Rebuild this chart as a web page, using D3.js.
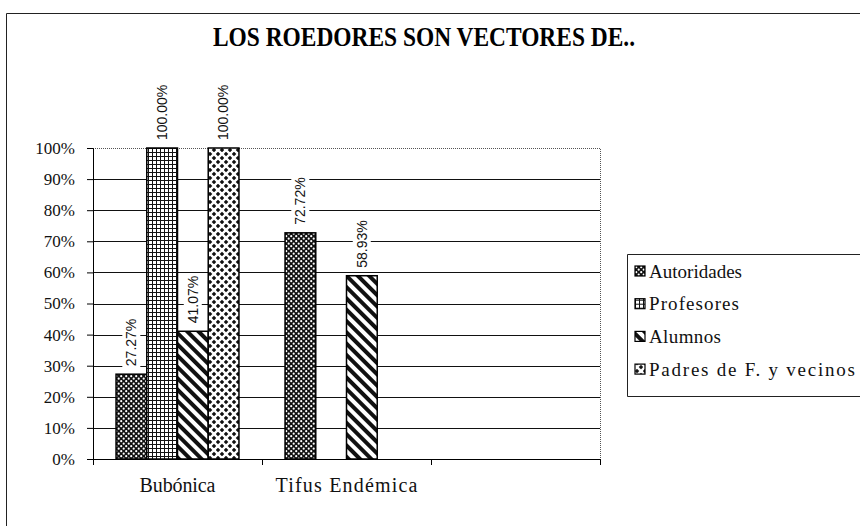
<!DOCTYPE html>
<html>
<head>
<meta charset="utf-8">
<script src="https://cdn.jsdelivr.net/npm/d3@7/dist/d3.min.js"></script>
<style>
  body { margin: 0; background: #fff; }
  svg { display: block; }
</style>
</head>
<body>
<div id="chart"></div>
<script>
const TITLE = 'LOS ROEDORES SON VECTORES DE..';
const CATEGORIES = ['Bubónica', 'Tifus Endémica', ''];
const SERIES = ['Autoridades', 'Profesores', 'Alumnos', 'Padres de F. y vecinos'];
// one array per series, values in % for each category (null = no bar)
const AUTORIDADES = [27.27, 72.72, null];
const PROFESORES = [100.00, null, null];
const ALUMNOS = [41.07, 58.93, null];
const PADRES = [100.00, null, null];
const Y_TICKS = [0, 10, 20, 30, 40, 50, 60, 70, 80, 90, 100];

const VALUES = [AUTORIDADES, PROFESORES, ALUMNOS, PADRES];
const PATTERN_IDS = ['pat-aut', 'pat-prof', 'pat-alum', 'pat-pad'];
const SERIF = 'Liberation Serif';
const SANS = 'Liberation Sans';
// the scanned type is spaced out, so stretch a few texts to their printed widths
const CAT_TEXT_W = [76, 142, 0];
const LEGEND_TEXT_W = [93, 90, 72, 206];

const W = 860, H = 526;
const plot = { left: 93, right: 600, top: 148, bottom: 459 };

const svg = d3.select('#chart').append('svg').attr('width', W).attr('height', H);
const defs = svg.append('defs');

// hatch patterns, black & white like the print
const pAut = defs.append('pattern').attr('id', 'pat-aut').attr('patternUnits', 'userSpaceOnUse')
  .attr('width', 5).attr('height', 5);
pAut.append('rect').attr('width', 5).attr('height', 5).attr('fill', '#111');
pAut.append('circle').attr('cx', 1.2).attr('cy', 1.2).attr('r', 1.1).attr('fill', '#fff');
pAut.append('circle').attr('cx', 3.7).attr('cy', 3.7).attr('r', 1.1).attr('fill', '#fff');

const pProf = defs.append('pattern').attr('id', 'pat-prof').attr('patternUnits', 'userSpaceOnUse')
  .attr('width', 4).attr('height', 4);
pProf.append('rect').attr('width', 4).attr('height', 4).attr('fill', '#fff');
pProf.append('path').attr('d', 'M0 0.5H4M0.5 0V4').attr('stroke', '#111').attr('stroke-width', 1);

const pAlum = defs.append('pattern').attr('id', 'pat-alum').attr('patternUnits', 'userSpaceOnUse')
  .attr('width', 8).attr('height', 8).attr('patternTransform', 'rotate(-45)');
pAlum.append('rect').attr('width', 8).attr('height', 8).attr('fill', '#fff');
pAlum.append('rect').attr('width', 4).attr('height', 8).attr('fill', '#111');

// black diamonds on white, offset rows
const pPad = defs.append('pattern').attr('id', 'pat-pad').attr('patternUnits', 'userSpaceOnUse')
  .attr('width', 8).attr('height', 8);
pPad.append('rect').attr('width', 8).attr('height', 8).attr('fill', '#fff');
pPad.append('path').attr('d', 'M2 -0.3L4.3 2L2 4.3L-0.3 2ZM6 3.7L8.3 6L6 8.3L3.7 6Z').attr('fill', '#111');

// outer chart frame (runs off the page on the right and bottom)
svg.append('path').attr('d', `M6.5 ${H + 5}V13.5H${W + 5}`)
  .attr('fill', 'none').attr('stroke', '#222').attr('stroke-width', 1);

svg.append('text').attr('x', 424).attr('y', 46).attr('text-anchor', 'middle')
  .style('font-family', SERIF).style('font-weight', 'bold').style('font-size', '27px')
  .attr('textLength', 422).attr('lengthAdjust', 'spacingAndGlyphs')
  .attr('fill', '#000').text(TITLE);

const x0 = d3.scaleBand().domain(CATEGORIES).range([plot.left, plot.right]).padding(0);
const x1 = d3.scaleBand().domain(SERIES).range([0, x0.bandwidth()]).paddingInner(0).paddingOuter(0.75);
const y = d3.scaleLinear().domain([0, 100]).range([plot.bottom, plot.top]);

// gridlines
svg.append('g').selectAll('line').data(Y_TICKS.filter(t => t > 0 && t < 100)).enter().append('line')
  .attr('x1', plot.left).attr('x2', plot.right)
  .attr('y1', d => Math.round(y(d)) + 0.5).attr('y2', d => Math.round(y(d)) + 0.5)
  .attr('stroke', '#111').attr('stroke-width', 1);

// dotted plot-area border top & right
svg.append('path').attr('d', `M${plot.left} ${plot.top + 0.5}H${plot.right + 0.5}V${plot.bottom}`)
  .attr('fill', 'none').attr('stroke', '#555').attr('stroke-width', 1).attr('stroke-dasharray', '1,1');

// bars
const bars = [];
SERIES.forEach((s, si) => {
  CATEGORIES.forEach((c, ci) => {
    const v = VALUES[si][ci];
    if (v != null) bars.push({ series: s, cat: c, value: v, si });
  });
});

svg.append('g').selectAll('rect').data(bars).enter().append('rect')
  .attr('x', d => x0(d.cat) + x1(d.series))
  .attr('y', d => y(d.value))
  .attr('width', x1.bandwidth())
  .attr('height', d => y(0) - y(d.value))
  .attr('fill', d => `url(#${PATTERN_IDS[d.si]})`)
  .attr('stroke', '#000').attr('stroke-width', 1.5);

// axes
const yAxis = svg.append('g').attr('transform', `translate(${plot.left},0)`)
  .call(d3.axisLeft(y).tickValues(Y_TICKS).tickSize(6).tickPadding(12).tickFormat(d => d + '%'));
yAxis.select('.domain').attr('stroke', '#000');
yAxis.selectAll('.tick line').attr('stroke', '#000');
yAxis.selectAll('text').style('font-family', SERIF).style('font-size', '17px').attr('fill', '#111');

const xAxis = svg.append('g').attr('transform', `translate(0,${plot.bottom})`);
xAxis.append('line').attr('x1', plot.left - 6).attr('x2', plot.right).attr('y1', 0.5).attr('y2', 0.5)
  .attr('stroke', '#000');
const tickXs = CATEGORIES.map(c => x0(c)).concat([x0(CATEGORIES[CATEGORIES.length - 1]) + x0.bandwidth()]);
xAxis.selectAll('.xt').data(tickXs).enter().append('line')
  .attr('x1', d => Math.round(d) + 0.5).attr('x2', d => Math.round(d) + 0.5)
  .attr('y1', 0).attr('y2', 6).attr('stroke', '#000');
xAxis.selectAll('.xl').data(CATEGORIES.filter(c => c !== '')).enter().append('text')
  .attr('x', d => x0(d) + x0.bandwidth() / 2).attr('y', 33).attr('text-anchor', 'middle')
  .style('font-family', SERIF).style('font-size', '20px')
  .attr('textLength', (d, i) => CAT_TEXT_W[i]).attr('lengthAdjust', 'spacing')
  .attr('fill', '#111').text(d => d);

// data labels, rotated, with white box behind
const lbl = svg.append('g').selectAll('g').data(bars).enter().append('g')
  .attr('transform', d => `translate(${x0(d.cat) + x1(d.series) + x1.bandwidth() / 2},${y(d.value) - 8}) rotate(-90)`);
lbl.append('text')
  .attr('x', 0).attr('y', 0).attr('dy', '0.35em')
  .style('font-family', SANS).style('font-size', '14px')
  .attr('fill', '#111').text(d => d.value.toFixed(2) + '%');
lbl.each(function () {
  const g = d3.select(this);
  const b = g.select('text').node().getBBox();
  g.insert('rect', 'text').attr('x', b.x - 2).attr('y', b.y - 1)
    .attr('width', b.width + 4).attr('height', b.height + 2).attr('fill', '#fff');
});

// legend
const legend = svg.append('g').attr('transform', 'translate(627,254)');
legend.append('path').attr('d', `M${W} 0.5H0.5V142.5H${W}`).attr('fill', 'none')
  .attr('stroke', '#222').attr('stroke-width', 1);
const li = legend.selectAll('.li').data(SERIES).enter().append('g')
  .attr('transform', (d, i) => `translate(8,${17 + i * 32.7})`);
li.append('rect').attr('x', 0).attr('y', -5).attr('width', 10).attr('height', 10)
  .attr('fill', (d, i) => `url(#${PATTERN_IDS[i]})`).attr('stroke', '#000').attr('stroke-width', 1.2);
li.append('text').attr('x', 14).attr('y', 0).attr('dy', '0.35em')
  .style('font-family', SERIF).style('font-size', '19px')
  .attr('textLength', (d, i) => LEGEND_TEXT_W[i]).attr('lengthAdjust', 'spacing')
  .attr('fill', '#111').text(d => d);
</script>
</body>
</html>
